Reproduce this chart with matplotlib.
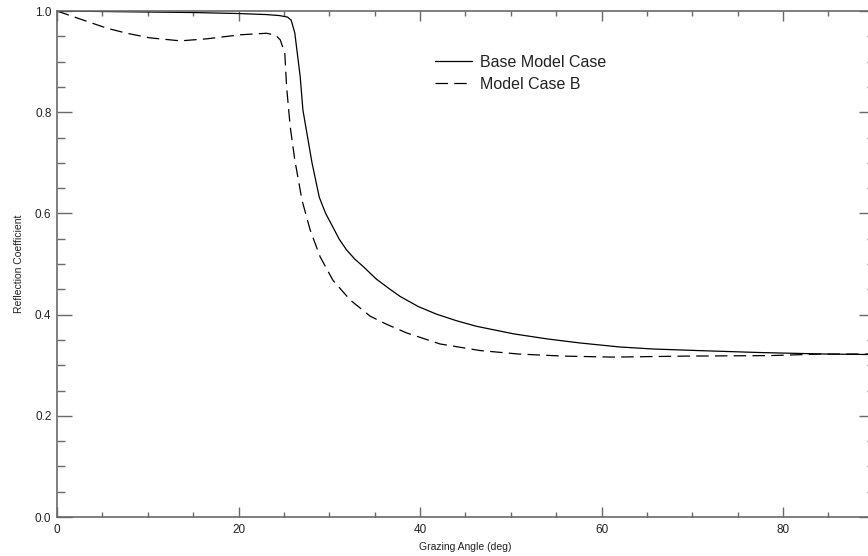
import matplotlib
matplotlib.use("Agg")
import matplotlib.pyplot as plt
from matplotlib.ticker import MultipleLocator

plt.rcParams['font.family'] = ['Liberation Sans', 'DejaVu Sans']

# Base Model Case (solid)
base_x = [0.0, 5.0, 10.0, 15.0, 20.0, 23.0, 24.5, 25.4, 25.8, 26.2, 26.8, 27.1, 28.1, 28.9,
          29.6, 30.4, 31.1, 31.9, 32.8, 33.8, 35.2, 36.7, 37.8, 39.8, 41.8, 44.0, 46.2, 50.3, 54.0, 57.6, 62.0,
          65.7, 70.5, 77.5, 84.8, 90.0]
base_y = [1.0, 0.999, 0.998, 0.997, 0.995, 0.993, 0.991, 0.988, 0.982, 0.957, 0.87, 0.804, 0.70, 0.632,
          0.600, 0.573, 0.549, 0.528, 0.510, 0.494, 0.470, 0.450, 0.436, 0.416, 0.401, 0.388, 0.377, 0.362, 0.352, 0.344, 0.336,
          0.332, 0.329, 0.325, 0.322, 0.321]

# Model Case B (dashed)
caseb_x = [0.0, 2.9, 5.5, 7.7, 10.2, 13.6, 16.5, 20.2, 23.1, 24.1, 24.6, 25.1, 25.3, 25.7,
           26.2, 27.0, 27.9, 29.0, 30.4, 32.3, 34.5, 36.3, 38.5, 42.2, 46.6, 50.9,
           55.8, 61.3, 69.4, 78.6, 84.1, 90.0]
caseb_y = [1.0, 0.982, 0.966, 0.956, 0.947, 0.941, 0.945, 0.953, 0.956, 0.952, 0.943, 0.917, 0.85, 0.771,
           0.706, 0.626, 0.567, 0.514, 0.468, 0.429, 0.397, 0.381, 0.364, 0.342, 0.329, 0.322,
           0.318, 0.316, 0.318, 0.319, 0.322, 0.322]

x_ticks = [0, 20, 40, 60, 80]
x_tick_labels = ["0", "20", "40", "60", "80"]
y_ticks = [0.0, 0.2, 0.4, 0.6, 0.8, 1.0]
y_tick_labels = ["0.0", "0.2", "0.4", "0.6", "0.8", "1.0"]

W, H = 868, 556
fig = plt.figure(figsize=(W / 100, H / 100), dpi=100)
left_px, right_px, top_px, bottom_px = 57, 57 + 816.75, 11, 517
ax = fig.add_axes([left_px / W, (H - bottom_px) / H,
                   (right_px - left_px) / W, (bottom_px - top_px) / H])

ax.plot(base_x, base_y, color='black', lw=0.9, label='Base Model Case')
ax.plot(caseb_x, caseb_y, color='black', lw=0.9, dashes=(10, 5), label='Model Case B')

ax.set_xlim(0, 90)
ax.set_ylim(0, 1.0)
ax.set_xticks(x_ticks)
ax.set_xticklabels(x_tick_labels)
ax.set_yticks(y_ticks)
ax.set_yticklabels(y_tick_labels)
ax.xaxis.set_minor_locator(MultipleLocator(5))
ax.yaxis.set_minor_locator(MultipleLocator(0.05))

grey = '#6a6a6a'
for s in ax.spines.values():
    s.set_color(grey)
    s.set_linewidth(1.2)

ax.tick_params(axis='x', which='major', direction='in', length=7.2, width=1.0, color=grey,
               top=True, labelsize=8.5, labelcolor='#222222', pad=5)
ax.tick_params(axis='x', which='minor', direction='in', length=3.6, width=1.0, color=grey, top=True)
ax.tick_params(axis='y', which='major', direction='in', length=10.8, width=1.0, color=grey,
               right=True, labelsize=8.5, labelcolor='#222222', pad=4)
ax.tick_params(axis='y', which='minor', direction='in', length=5.4, width=1.0, color=grey, right=True)

ax.set_xlabel('Grazing Angle (deg)', fontsize=7.5, color='#222222', labelpad=4)
ax.set_ylabel('Reflection Coefficient', fontsize=7.5, color='#222222', labelpad=8)

leg = ax.legend(loc='upper left', bbox_to_anchor=(435 / W, 1 - 55 / H),
                bbox_transform=fig.transFigure, frameon=False, fontsize=11.5,
                borderpad=0, borderaxespad=0, handlelength=2.3, handletextpad=0.5,
                labelspacing=0.42)
for t in leg.get_texts():
    t.set_color('#222222')

fig.savefig('out.png', dpi=100)
